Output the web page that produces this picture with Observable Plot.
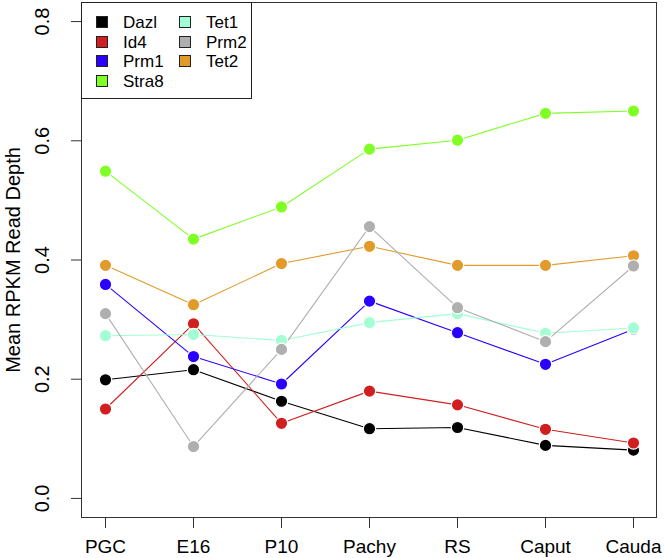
<!DOCTYPE html>
<html>
<head>
<meta charset="utf-8">
<script src="https://cdn.jsdelivr.net/npm/d3@7"></script>
<script src="https://cdn.jsdelivr.net/npm/@observablehq/plot@0.6"></script>
<style>
  html, body { margin: 0; padding: 0; background: #fff; }
  #wrap { position: relative; width: 664px; height: 558px; font-family: "Liberation Sans", Arial, sans-serif; }
  #legend { position: absolute; left: 81px; top: 2px; width: 171px; height: 97px; border: 1px solid #222; background: #fff; box-sizing: border-box; }
  .item { position: absolute; font-size: 17px; line-height: 17px; color: #000; white-space: nowrap; }
  .sw { position: absolute; width: 12px; height: 12px; border: 1px solid #222; box-sizing: border-box; }
</style>
</head>
<body>
<div id="wrap"><div id="chart"></div><div id="legend"></div></div>
<script>
const stages = ["PGC", "E16", "P10", "Pachy", "RS", "Caput", "Cauda"];
const genes = ["Dazl", "Id4", "Prm1", "Stra8", "Tet1", "Prm2", "Tet2"];
const geneColors = ["#000000", "#d11f1f", "#2a00ff", "#80ff24", "#a3ffd3", "#afafaf", "#e29a2a"];
const drawOrder = ["Dazl", "Id4", "Prm1", "Stra8", "Tet1", "Tet2", "Prm2"];

const dazl  = [0.199, 0.216, 0.163, 0.117, 0.119, 0.089, 0.081];
const id4   = [0.150, 0.293, 0.126, 0.180, 0.157, 0.116, 0.093];
const prm1  = [0.359, 0.238, 0.192, 0.331, 0.278, 0.225, 0.284];
const stra8 = [0.549, 0.435, 0.489, 0.586, 0.601, 0.646, 0.650];
const tet1  = [0.273, 0.275, 0.265, 0.295, 0.310, 0.277, 0.286];
const prm2  = [0.310, 0.087, 0.250, 0.456, 0.320, 0.263, 0.390];
const tet2  = [0.391, 0.325, 0.394, 0.423, 0.391, 0.391, 0.407];
const yTicks = [0, 0.2, 0.4, 0.6, 0.8];

const series = {Dazl: dazl, Id4: id4, Prm1: prm1, Stra8: stra8, Tet1: tet1, Prm2: prm2, Tet2: tet2};
const rows = drawOrder.flatMap(g => stages.map((s, i) => ({gene: g, stage: s, value: series[g][i]})));

const font = "Liberation Sans, Arial, sans-serif";
const chart = Plot.plot({
  width: 664,
  height: 558,
  marginLeft: 81,
  marginRight: 8,
  marginTop: 2,
  marginBottom: 41,
  style: {fontFamily: font, fontSize: "19px", background: "#fff", color: "#000"},
  x: {type: "point", domain: stages, padding: 0.24},
  y: {domain: [-0.032, 0.832]},
  color: {domain: genes, range: geneColors},
  marks: [
    Plot.axisX({ticks: stages, tickSize: 11, tickPadding: 11, fontSize: 19, label: null, stroke: "#333"}),
    Plot.axisY({ticks: yTicks, tickSize: 10, tickFormat: () => "", label: null, stroke: "#333"}),
    Plot.text(yTicks, {y: d => d, text: d => d.toFixed(1), frameAnchor: "left", dx: -39, rotate: -90, fontSize: 20, textAnchor: "middle", fill: "#000"}),
    Plot.text(["Mean RPKM Read Depth"], {frameAnchor: "left", dx: -68, rotate: -90, fontSize: 20, textAnchor: "middle", fill: "#000"}),
    Plot.frame({stroke: "#333", strokeWidth: 1}),
    Plot.line(rows, {x: "stage", y: "value", z: "gene", stroke: "gene", strokeWidth: 1.1}),
    Plot.dot(rows, {x: "stage", y: "value", fill: "gene", r: 6.2, stroke: "#fff", strokeWidth: 1.2})
  ]
});
document.getElementById("chart").appendChild(chart);

const legend = document.getElementById("legend");
genes.forEach((g, i) => {
  const col = i < 4 ? 0 : 1;
  const row = i < 4 ? i : i - 4;
  const sw = document.createElement("div");
  sw.className = "sw";
  sw.style.left = (col === 0 ? 14 : 97) + "px";
  sw.style.top = (13 + row * 19.6) + "px";
  sw.style.background = geneColors[i];
  legend.appendChild(sw);
  const t = document.createElement("div");
  t.className = "item";
  t.textContent = g;
  t.style.left = (col === 0 ? 41 : 124) + "px";
  t.style.top = (11 + row * 19.6) + "px";
  legend.appendChild(t);
});
</script>
</body>
</html>
